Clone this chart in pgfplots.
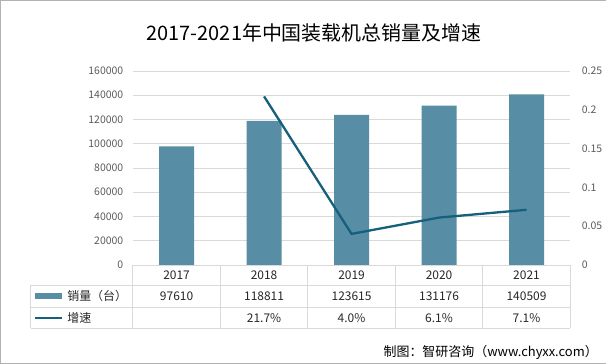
\documentclass[border=0pt]{standalone}
\usepackage{pgfplots}
\pgfplotsset{compat=1.18}
\usepackage{fontspec}
\setmainfont{Noto Sans CJK SC}
\definecolor{barc}{RGB}{88,142,165}
\definecolor{linec}{RGB}{22,96,124}
\definecolor{gridc}{RGB}{217,217,217}
\definecolor{tickc}{RGB}{89,89,89}
\begin{document}
\begin{tikzpicture}[x=1bp,y=1bp]
\draw[gray!60] (0.5,0.5) rectangle (605.5,363.5);
\node[font=\fontsize{20}{23}\selectfont] at (314,331) {2017-2021年中国装载机总销量及增速};
\begin{axis}[at={(133bp,99bp)}, anchor=south west, scale only axis,
  width=437bp, height=194bp,
  xmin=-0.5, xmax=4.5, ymin=0, ymax=160000,
  ytick={0,20000,40000,60000,80000,100000,120000,140000,160000},
  xtick=\empty, axis line style={draw=none}, tick style={draw=none},
  ymajorgrids, major grid style={gridc},
  scaled y ticks=false,
  yticklabel style={font=\fontsize{10.5}{12}\selectfont, text=tickc, xshift=-6bp},
  /pgf/number format/.cd, set thousands separator={}, fixed, assume math mode=true]
\addplot[ybar, bar width=35bp, fill=barc, draw=none] coordinates {(0,97610)(1,118811)(2,123615)(3,131176)(4,140509)};
\end{axis}
\begin{axis}[at={(133bp,99bp)}, anchor=south west, scale only axis,
  width=437bp, height=194bp,
  xmin=-0.5, xmax=4.5, ymin=0, ymax=0.25,
  ytick={0,0.05,0.1,0.15,0.2,0.25},
  axis y line*=right, axis x line=none,
  xtick=\empty, axis line style={draw=none}, tick style={draw=none},
  yticklabel style={font=\fontsize{10.5}{12}\selectfont, text=tickc, xshift=8bp},
  /pgf/number format/.cd, fixed, assume math mode=true]
\addplot[linec, line width=2.3bp, mark=none] coordinates {(1,0.217)(2,0.040)(3,0.061)(4,0.071)};
\end{axis}
% data table
\begin{scope}[gridc, line width=0.8bp]
\foreach \k in {0,...,5} {\draw (133+87.4*\k,99) -- (133+87.4*\k,36);}
\draw (31,79) -- (31,36);
\draw (31,79) -- (570,79);
\draw (31,57) -- (570,57);
\draw (31,36) -- (570,36);
\end{scope}
\begin{scope}[font=\fontsize{12}{14}\selectfont, text=black!85]
\foreach \y [count=\i from 0] in {2017,2018,2019,2020,2021} {\node at (133+87.4*\i+43.7,89) {\y};}
\foreach \v [count=\i from 0] in {97610,118811,123615,131176,140509} {\node at (133+87.4*\i+43.7,68) {\v};}
\foreach \v [count=\i from 1] in {21.7\%,4.0\%,6.1\%,7.1\%} {\node at (133+87.4*\i+43.7,46) {\v};}
\fill[barc] (35,65) rectangle (62,71);
\draw[linec, line width=2.5bp] (35,46) -- (62,46);
\node[anchor=west] at (64,68) {销量（台）};
\node[anchor=west] at (64,46) {增速};
\end{scope}
\node[anchor=east, font=\fontsize{13}{15}\selectfont] at (601,12) {制图：智研咨询（www.chyxx.com）};
\end{tikzpicture}
\end{document}
